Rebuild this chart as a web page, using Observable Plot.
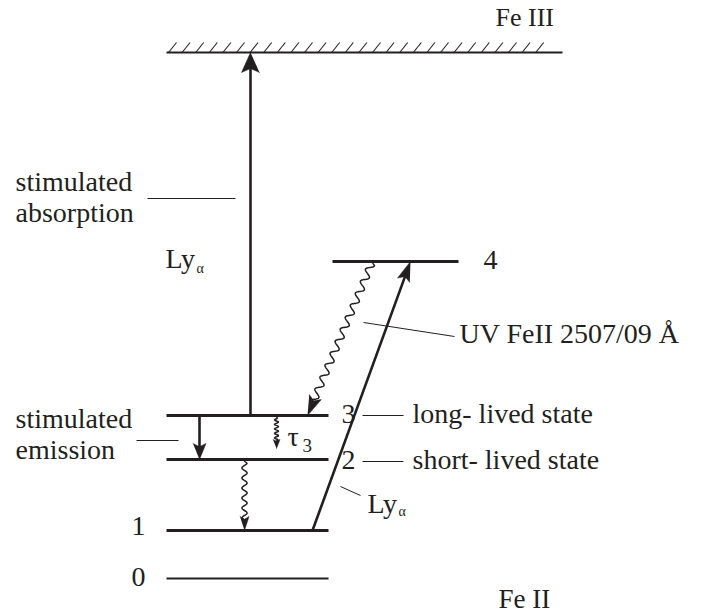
<!DOCTYPE html>
<html><head><meta charset="utf-8">
<script src="https://cdn.jsdelivr.net/npm/d3@7"></script>
<script src="https://cdn.jsdelivr.net/npm/@observablehq/plot@0.6"></script>
<style>body{margin:0;background:#fff} svg{display:block} svg text{font-family:"Liberation Serif",serif !important}</style>
</head><body><div id="chart"></div>
<script>
// Energy levels (diagram units, up = higher energy)
const levelNames = ["Fe III", "4", "3", "2", "1", "0"];
const levelEnergy = [560, 351, 197, 153, 82, 34];
const levelStart = [166, 332, 166, 166, 166, 166];
const levelEnd = [562, 458, 328, 328, 328, 328];

// Transitions
const transNames = ["absorption", "emission", "pump", "uv", "tau3", "decay21"];
const transKind = ["straight", "straight", "straight", "wavy", "wavy", "wavy"];
const transX1 = [250, 199, 312, 372, 276, 244];
const transE1 = [197, 197, 82, 351, 196, 152];
const transX2 = [250, 199, 410, 307, 276, 244];
const transE2 = [560, 153, 351, 197, 164, 82];

// Text labels
const labelText = ["Fe III", "stimulated\nabsorption", "Ly", "stimulated\nemission", "UV FeII 2507/09 Å",
  "long- lived state", "short- lived state", "Ly", "4", "3", "2", "1", "0", "Fe II", "τ"];
const labelX = [495, 15, 165, 15, 459, 412, 412, 367, 483, 341, 341, 131, 131, 498, 287];
const labelE = [587, 391, 345, 154, 270, 190, 144, 100, 344, 190, 144, 78, 27, 5, 167];
const subText = ["α", "α", "3"];
const subX = [196, 398, 302];
const subE = [340, 97, 161];

// Leader lines
const leaderX1 = [147, 136, 363, 362, 362, 340];
const leaderE1 = [414, 172, 290, 197, 151, 126];
const leaderX2 = [235, 178, 454, 403, 403, 360];
const leaderE2 = [414, 172, 276, 197, 151, 117];

const ink = "#231f20";
const serif = "Liberation Serif";
const headSize = {absorption: [20, 9], emission: [16, 6.5], pump: [20, 6.5], uv: [20, 6.5], tau3: [9, 3.5], decay21: [14, 4.5]};
const waveSpec = {uv: [3.5, 13], tau3: [2, 4.5], decay21: [2.6, 10]};

const levels = levelNames.map((n, i) => ({name: n, e: levelEnergy[i], x1: levelStart[i], x2: levelEnd[i]}));
const trans = transNames.map((n, i) => ({name: n, kind: transKind[i], x1: transX1[i], y1: transE1[i], x2: transX2[i], y2: transE2[i]}));

const shafts = [], heads = [];
for (const t of trans) {
  const dx = t.x2 - t.x1, dy = t.y2 - t.y1, len = Math.hypot(dx, dy);
  const ux = dx / len, uy = dy / len, px = -uy, py = ux;
  const [L, W] = headSize[t.name];
  const bx = t.x2 - ux * L, by = t.y2 - uy * L;
  heads.push({id: t.name, x: t.x2, y: t.y2}, {id: t.name, x: bx + px * W, y: by + py * W},
             {id: t.name, x: t.x2 - ux * L * 0.8, y: t.y2 - uy * L * 0.8}, {id: t.name, x: bx - px * W, y: by - py * W});
  const endLen = len - L * 0.7;
  if (t.kind === "straight") {
    shafts.push({id: t.name, x: t.x1, y: t.y1, w: 2.6}, {id: t.name, x: t.x1 + ux * endLen, y: t.y1 + uy * endLen, w: 2.6});
  } else {
    const [amp, wl] = waveSpec[t.name];
    const n = Math.ceil(endLen / 0.5);
    for (let k = 0; k <= n; k++) {
      const s = endLen * k / n;
      const taper = Math.min(1, s / 3, (endLen - s) / 3);
      const off = amp * Math.sin(2 * Math.PI * s / wl) * taper;
      shafts.push({id: t.name, x: t.x1 + ux * s + px * off, y: t.y1 + uy * s + py * off, w: 1.5});
    }
  }
}

// Hatching above the Fe III continuum
const contLevel = levels[0];
const hatches = d3.range(contLevel.x1 + 2, contLevel.x2 - 26, 13.6).map(x => ({x1: x, y1: contLevel.e, x2: x + 8, y2: contLevel.e + 10}));

const labels = labelText.map((t, i) => ({t, x: labelX[i], y: labelE[i]}));
const subs = subText.map((t, i) => ({t, x: subX[i], y: subE[i]}));
const leaders = leaderX1.map((x, i) => ({x1: x, y1: leaderE1[i], x2: leaderX2[i], y2: leaderE2[i]}));

const chart = Plot.plot({
  width: 706, height: 612, margin: 0,
  x: {domain: [0, 706], axis: null},
  y: {domain: [0, 612], axis: null},
  style: {fontFamily: serif, background: "#fff", color: ink},
  marks: [
    Plot.link(hatches, {x1: "x1", y1: "y1", x2: "x2", y2: "y2", stroke: ink, strokeWidth: 1.1}),
    Plot.link(levels, {x1: "x1", x2: "x2", y1: "e", y2: "e", stroke: ink,
      strokeWidth: d => (d.name === "Fe III" || d.name === "0") ? 2.2 : 3.2}),
    Plot.link(leaders, {x1: "x1", y1: "y1", x2: "x2", y2: "y2", stroke: ink, strokeWidth: 1}),
    Plot.line(shafts.filter(d => d.w > 2), {x: "x", y: "y", z: "id", stroke: ink, strokeWidth: 2.6}),
    Plot.line(shafts.filter(d => d.w <= 2), {x: "x", y: "y", z: "id", stroke: ink, strokeWidth: 1.5, curve: "linear"}),
    Plot.line(heads, {x: "x", y: "y", z: "id", fill: ink, stroke: ink, strokeWidth: 0.5}),
    Plot.text(labels, {x: "x", y: "y", text: "t", textAnchor: "start", lineAnchor: "bottom",
      fontSize: d => d.t === "Fe III" ? 26 : d.t === "Fe II" ? 27 : 28, lineHeight: 1.1, fill: ink, fontFamily: serif}),
    Plot.text(subs, {x: "x", y: "y", text: "t", textAnchor: "start", lineAnchor: "bottom", fontSize: d => d.t === "3" ? 19 : 14, fill: ink, fontFamily: serif})
  ]
});
document.getElementById("chart").append(chart);
</script>
</body></html>
